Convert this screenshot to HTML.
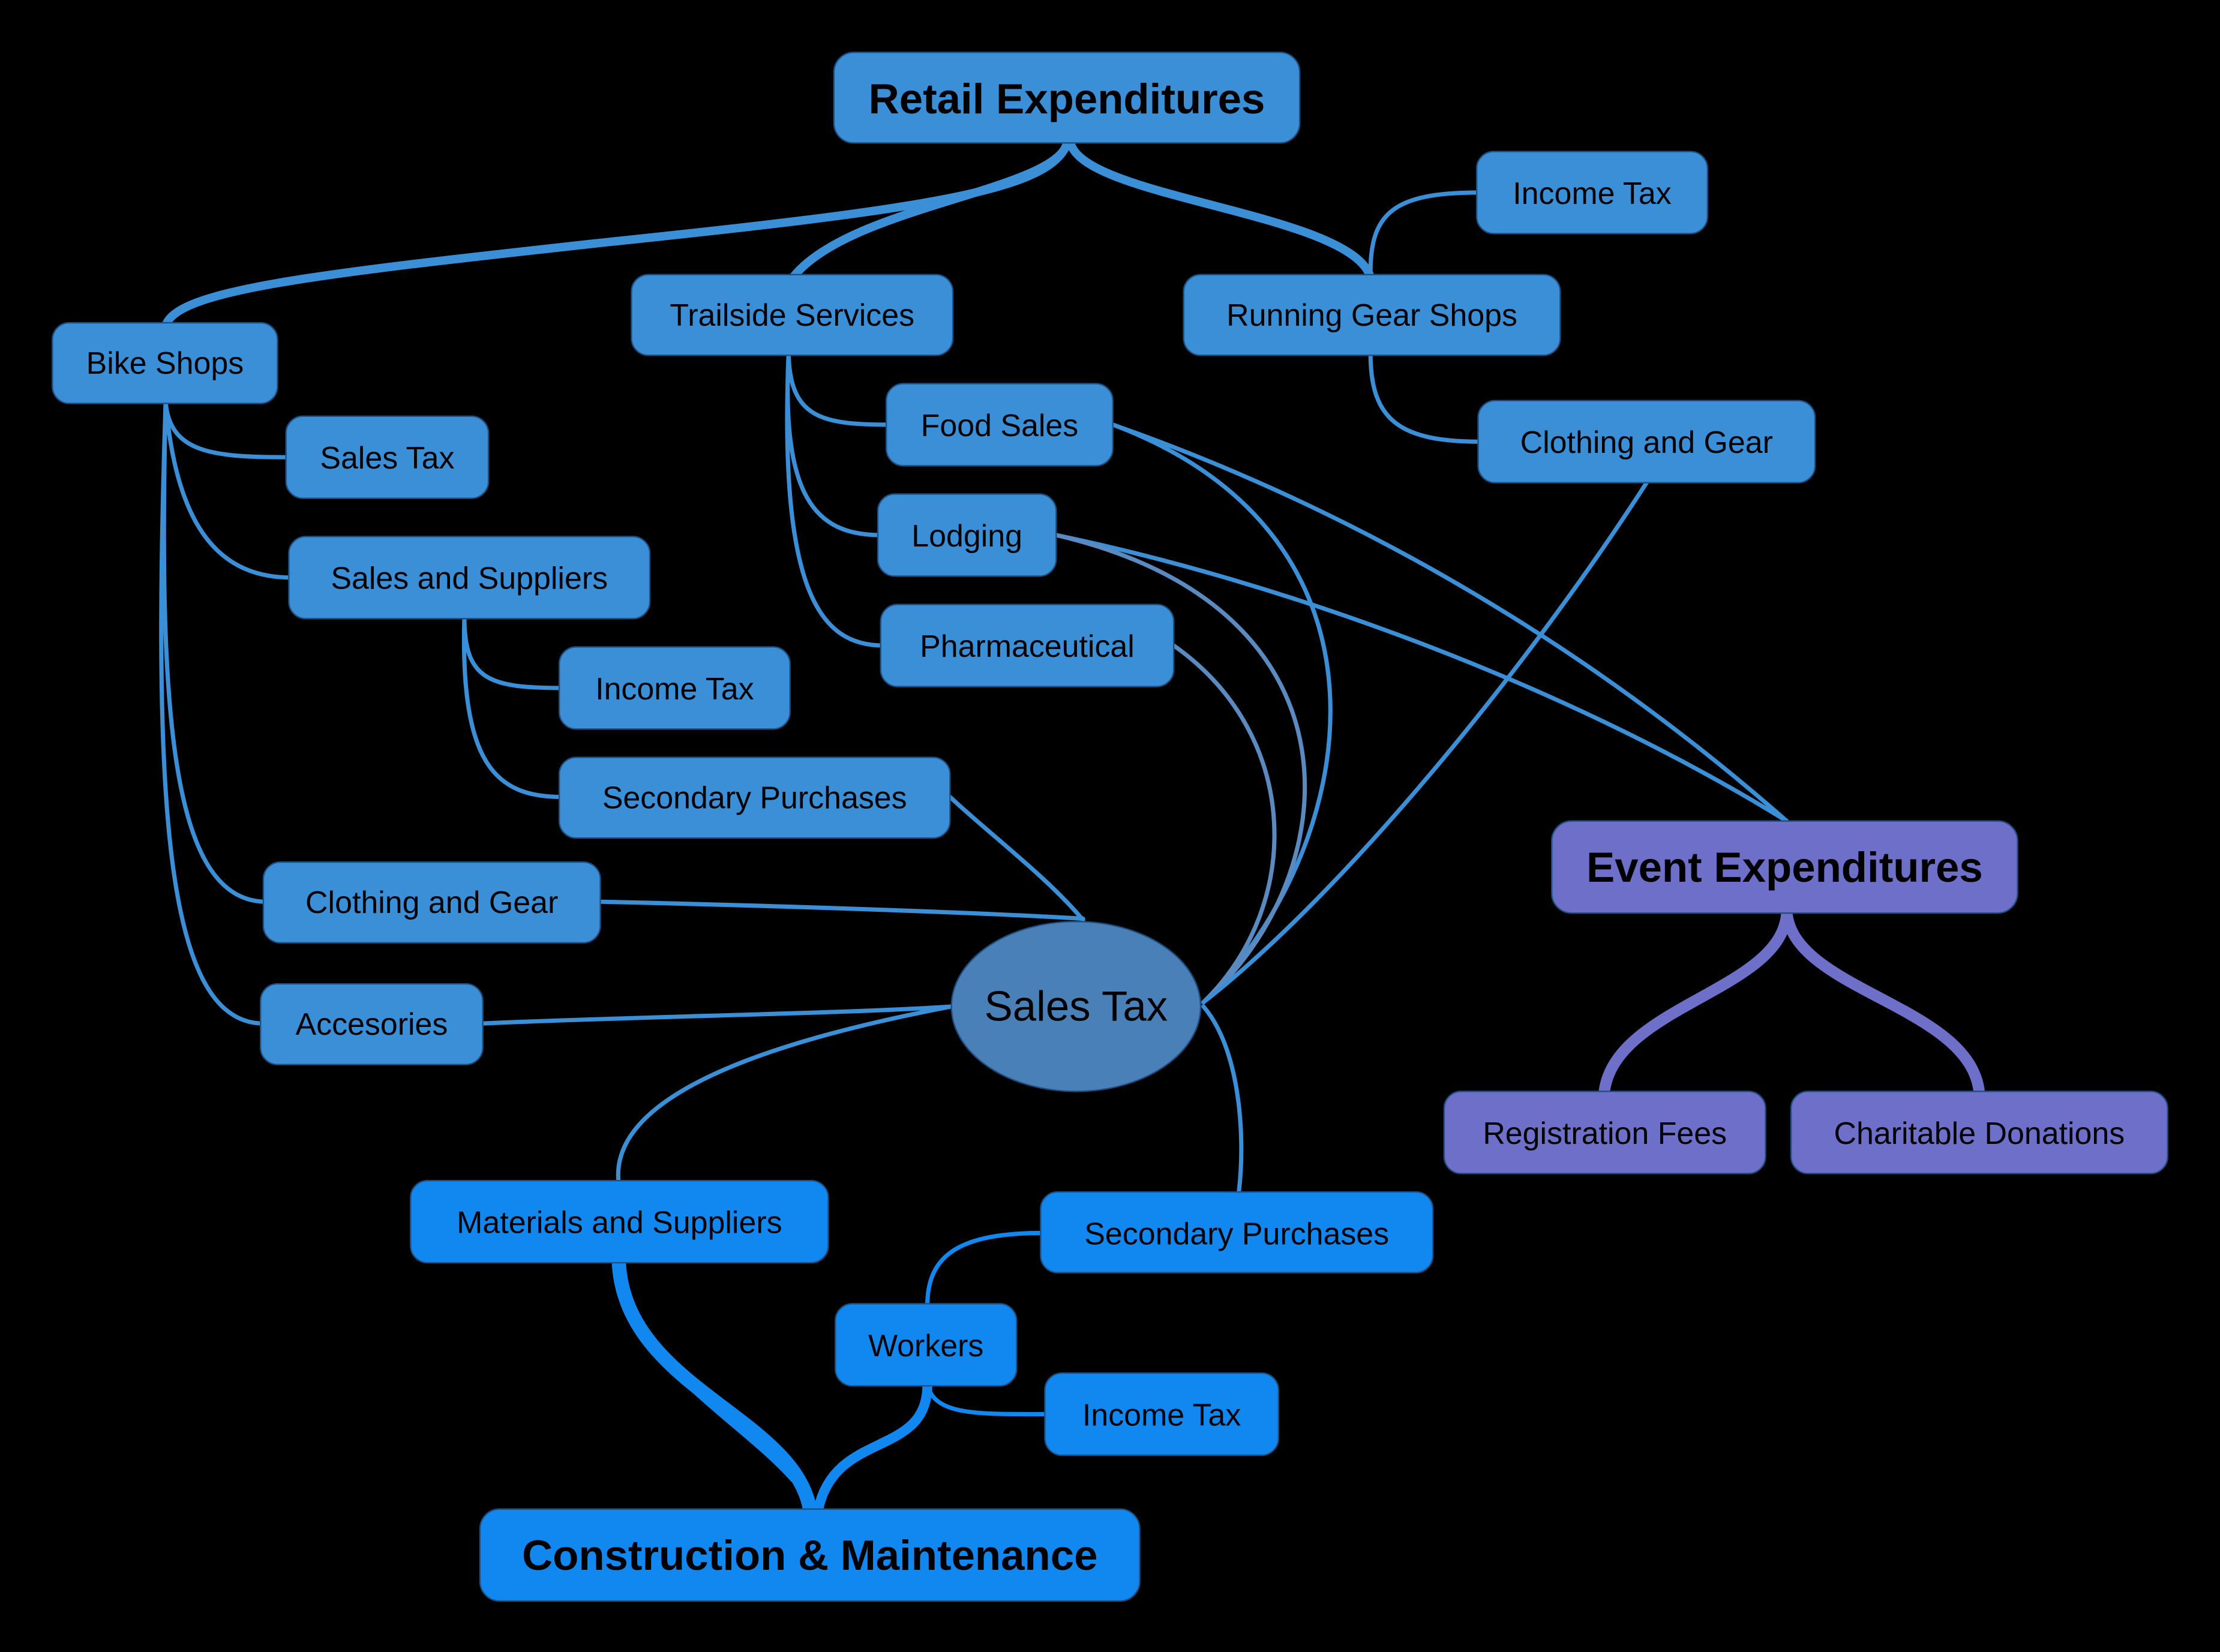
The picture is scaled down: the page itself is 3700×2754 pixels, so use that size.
<!DOCTYPE html>
<html><head><meta charset="utf-8"><style>
html,body{margin:0;padding:0;background:#000;}
svg{display:block;}
text{font-family:"Liberation Sans",Arial,sans-serif;fill:#000;}
</style></head><body>
<svg width="3700" height="2754" viewBox="0 0 1568 1167" preserveAspectRatio="none" xmlns="http://www.w3.org/2000/svg">
<rect width="1568" height="1167" fill="#000"/>
<g fill="none" stroke="#3a8fd6" stroke-linecap="round">
<!-- Retail branches -->
<path d="M754,100 C745,135 650,148 420,172 C220,194 125,205 117,230" stroke-width="6"/>
<path d="M754,100 C748,135 600,145 560,196" stroke-width="6"/>
<path d="M756,100 C762,140 955,150 968,196" stroke-width="6"/>
<path d="M968,192 C968,150 985,136 1045,136" stroke-width="3"/>
<path d="M968,250 C968,298 990,312 1046,312" stroke-width="3"/>
<!-- Bike shops -->
<path d="M117,284 C120,320 150,323 204,323" stroke-width="3"/>
<path d="M117,284 C125,380 160,408 206,408" stroke-width="3"/>
<path d="M117,284 C112,500 120,637 188,637" stroke-width="3"/>
<path d="M117,284 C108,560 115,723 186,723" stroke-width="3"/>
<!-- Sales and suppliers -->
<path d="M328,436 C328,480 345,486 397,486" stroke-width="3"/>
<path d="M328,436 C325,540 350,563 397,563" stroke-width="3"/>
<!-- Trailside -->
<path d="M557,250 C558,295 580,300 628,300" stroke-width="3"/>
<path d="M557,250 C552,350 575,378 622,378" stroke-width="3"/>
<path d="M557,250 C550,420 580,456 624,456" stroke-width="3"/>
<!-- to Event -->
<path d="M786,300 C900,340 1080,420 1262,580" stroke-width="3"/>
<path d="M746,378 C900,410 1100,480 1262,580" stroke-width="3"/>
<!-- to Sales Tax ellipse -->
<path d="M786,300 C1000,380 960,600 850,708" stroke-width="3"/>
<path d="M746,378 C970,430 950,620 850,708" stroke-width="3" stroke="#5a8ac0"/>
<path d="M829,456 C920,520 920,640 850,708" stroke-width="3" stroke="#5a8ac0"/>
<path d="M1163,341 C1080,470 950,630 850,708" stroke-width="3"/>
<path d="M671,563 C700,590 740,620 765,650" stroke-width="3"/>
<path d="M424,637 C560,640 700,645 765,649" stroke-width="3"/>
<path d="M341,723 C450,718 600,716 672,711" stroke-width="3"/>
<path d="M672,711 C520,740 430,780 437,836" stroke-width="3"/>
<path d="M850,711 C875,740 880,800 875,842" stroke-width="3"/>
</g>
<!-- Construction branches -->
<g fill="none" stroke="#1188f0" stroke-linecap="round">
<path d="M437,890 C440,980 560,1000 572,1066" stroke-width="10"/>
<path d="M437,890 C440,960 520,1000 560,1045" stroke-width="4"/>
<path d="M655,978 C655,1030 590,1010 578,1066" stroke-width="7"/>
<path d="M655,922 C655,885 680,871 737,871" stroke-width="3"/>
<path d="M655,978 C660,1000 690,999 740,999" stroke-width="3"/>
</g>
<!-- Event branches -->
<g fill="none" stroke="#6e6fc8" stroke-linecap="round">
<path d="M1262,644 C1260,700 1140,710 1133,772" stroke-width="8"/>
<path d="M1262,644 C1266,700 1392,710 1398,772" stroke-width="8"/>
</g>
<!-- Nodes -->
<g stroke="#1f4f80" stroke-width="1">
<rect x="589" y="37" width="329" height="64" rx="14" fill="#3a8fd6"/>
<rect x="1043" y="107" width="163" height="58" rx="12" fill="#3a8fd6"/>
<rect x="446" y="194" width="227" height="57" rx="12" fill="#3a8fd6"/>
<rect x="836" y="194" width="266" height="57" rx="12" fill="#3a8fd6"/>
<rect x="37" y="228" width="159" height="57" rx="12" fill="#3a8fd6"/>
<rect x="626" y="271" width="160" height="58" rx="12" fill="#3a8fd6"/>
<rect x="1044" y="283" width="238" height="58" rx="12" fill="#3a8fd6"/>
<rect x="202" y="294" width="143" height="58" rx="12" fill="#3a8fd6"/>
<rect x="620" y="349" width="126" height="58" rx="12" fill="#3a8fd6"/>
<rect x="204" y="379" width="255" height="58" rx="12" fill="#3a8fd6"/>
<rect x="622" y="427" width="207" height="58" rx="12" fill="#3a8fd6"/>
<rect x="395" y="457" width="163" height="58" rx="12" fill="#3a8fd6"/>
<rect x="395" y="535" width="276" height="57" rx="12" fill="#3a8fd6"/>
<rect x="186" y="609" width="238" height="57" rx="12" fill="#3a8fd6"/>
<rect x="184" y="695" width="157" height="57" rx="12" fill="#3a8fd6"/>
<ellipse cx="760" cy="711" rx="88" ry="60" fill="#4a80b8"/>
<rect x="1096" y="580" width="329" height="65" rx="14" fill="#6e6fc8"/>
<rect x="1020" y="771" width="227" height="58" rx="12" fill="#6e6fc8"/>
<rect x="1265" y="771" width="266" height="58" rx="12" fill="#6e6fc8"/>
<rect x="290" y="834" width="295" height="58" rx="12" fill="#1188f0"/>
<rect x="735" y="842" width="277" height="57" rx="12" fill="#1188f0"/>
<rect x="590" y="921" width="128" height="58" rx="12" fill="#1188f0"/>
<rect x="738" y="970" width="165" height="58" rx="12" fill="#1188f0"/>
<rect x="339" y="1066" width="466" height="65" rx="14" fill="#1188f0"/>
</g>
<g font-size="22" text-anchor="middle">
<text x="753.5" y="80" font-size="30" font-weight="bold">Retail Expenditures</text>
<text x="1124.5" y="144">Income Tax</text>
<text x="559.5" y="230">Trailside Services</text>
<text x="969" y="230">Running Gear Shops</text>
<text x="116.5" y="264">Bike Shops</text>
<text x="706" y="308">Food Sales</text>
<text x="1163" y="320">Clothing and Gear</text>
<text x="273.5" y="331">Sales Tax</text>
<text x="683" y="386">Lodging</text>
<text x="331.5" y="416">Sales and Suppliers</text>
<text x="725.5" y="464">Pharmaceutical</text>
<text x="476.5" y="494">Income Tax</text>
<text x="533" y="571">Secondary Purchases</text>
<text x="305" y="645">Clothing and Gear</text>
<text x="262.5" y="731">Accesories</text>
<text x="760" y="721" font-size="30">Sales Tax</text>
<text x="1260.5" y="623" font-size="30" font-weight="bold">Event Expenditures</text>
<text x="1133.5" y="808">Registration Fees</text>
<text x="1398" y="808">Charitable Donations</text>
<text x="437.5" y="871">Materials and Suppliers</text>
<text x="873.5" y="879">Secondary Purchases</text>
<text x="654" y="958">Workers</text>
<text x="820.5" y="1007">Income Tax</text>
<text x="572" y="1109" font-size="30" font-weight="bold">Construction &amp; Maintenance</text>
</g>
</svg>
</body></html>
